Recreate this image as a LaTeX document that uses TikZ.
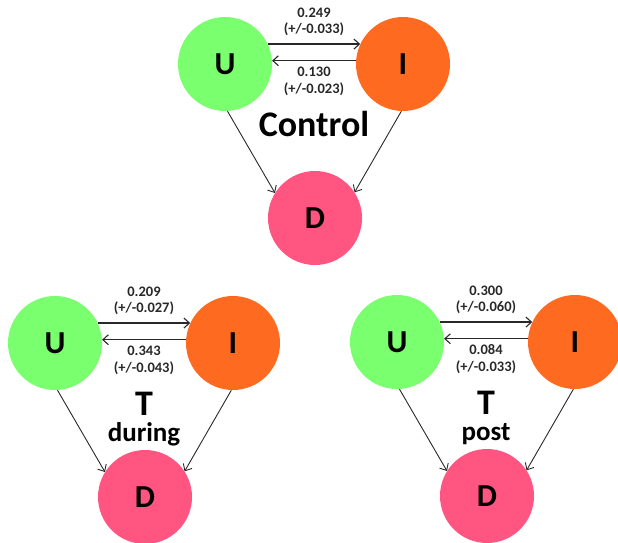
\documentclass[tikz,border=0pt]{standalone}
\usepackage{fontspec}
\setmainfont{Carlito}
\usetikzlibrary{calc,arrows.meta}

\definecolor{ucol}{RGB}{122,255,110}
\definecolor{icol}{RGB}{255,106,33}
\definecolor{dcol}{RGB}{255,85,128}
\definecolor{ink}{RGB}{40,40,40}

\tikzset{
  state/.style={circle,minimum size=94pt,inner sep=0pt,
    font=\fontsize{32}{32}\selectfont\bfseries,text=black},
  flow/.style={draw=ink,line width=1.2pt,
    -{Straight Barb[length=5.5pt,width=10pt,line width=1.1pt]}},
  feed/.style={draw=ink,line width=0.9pt,
    -{Straight Barb[length=5.5pt,width=10pt,line width=0.9pt]}},
  rate/.style={anchor=base,inner sep=0pt,text=ink,
    font=\fontsize{14.5}{14.5}\selectfont\bfseries},
  title/.style={anchor=base,inner sep=0pt,
    font=\fontsize{36}{36}\selectfont\bfseries},
  subtitle/.style={anchor=base,inner sep=0pt,
    font=\fontsize{27}{27}\selectfont\bfseries},
}

% one U-I-D triangle: #1 name prefix, #2 position of U,
% #3/#4 rate U->I and its error, #5/#6 rate I->U and its error,
% #7 title, #8 subtitle
\newcommand\triad[8]{%
  \node[state,fill=ucol] (#1U) at (#2) {U};
  \node[state,fill=icol] (#1I) at ($(#1U)+(178,0)$) {I};
  \node[state,fill=dcol] (#1D) at ($(#1U)+(90,154)$) {D};
  \draw[flow] (#1U.25) -- (#1I.155);
  \draw[flow] (#1I.176) -- (#1U.4);
  \draw[feed] (#1U.-87) -- (#1D.148);
  \draw[feed] (#1I.-92) -- (#1D.33);
  \node[rate] (#1ra) at ($(#1U)!.5!(#1I)+(0,-47)$) {#3};
  \node[rate] (#1rae) at ($(#1U)!.5!(#1I)+(0,-31)$) {#4};
  \node[rate] (#1rb) at ($(#1U)!.5!(#1I)+(0,12)$) {#5};
  \node[rate] (#1rbe) at ($(#1U)!.5!(#1I)+(0,29)$) {#6};
  \node[title] (#1t) at ($(#1U)+(89,72)$) {#7};
  \node[subtitle] (#1s) at ($(#1U)+(89,98)$) {#8};
}

\begin{document}
\begin{tikzpicture}[x=1pt,y=-1pt]
  \path[use as bounding box] (0,0) rectangle (618,542);
  \triad{c}{225,64}{0.249}{(+/-0.033)}{0.130}{(+/-0.023)}{Control}{}
  \triad{d}{55,343}{0.209}{(+/-0.027)}{0.343}{(+/-0.043)}{T}{during}
  \triad{p}{397,342}{0.300}{(+/-0.060)}{0.084}{(+/-0.033)}{T}{post}
\end{tikzpicture}
\end{document}
